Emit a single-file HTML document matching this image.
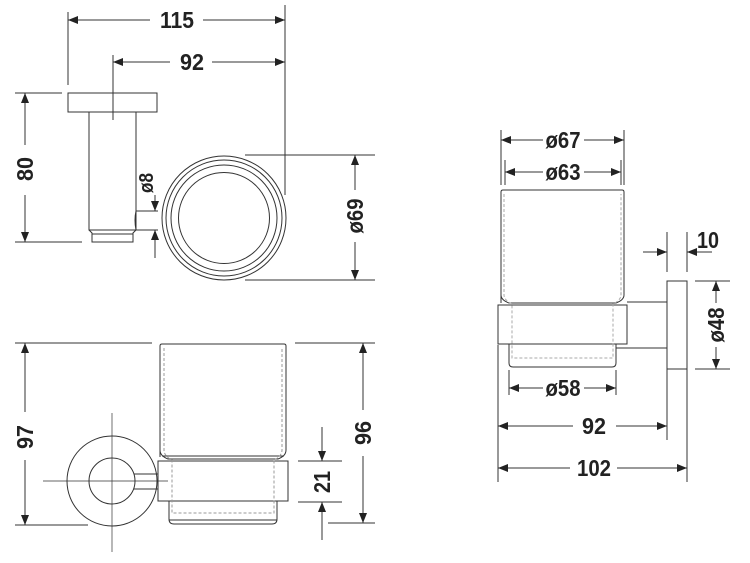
<!DOCTYPE html>
<html><head><meta charset="utf-8"><style>
html,body{margin:0;padding:0;background:#fff}
svg{display:block}
text{font-family:"Liberation Sans Narrow","Liberation Sans",sans-serif;font-weight:bold;font-size:23px;fill:#222}
</style></head><body>
<svg width="750" height="563" viewBox="0 0 750 563" xmlns="http://www.w3.org/2000/svg">
<defs>
<marker id="a" viewBox="0 0 10 8" refX="10" refY="4" markerWidth="10" markerHeight="8" markerUnits="userSpaceOnUse" orient="auto-start-reverse"><path d="M0,0 L10,4 L0,8 z" fill="#222"/></marker>
</defs>
<g stroke="#333" stroke-width="1" fill="none">
<line x1="68" y1="12" x2="68" y2="85"/>
<line x1="285" y1="5" x2="285" y2="195"/>
<line x1="113" y1="55" x2="113" y2="120"/>
<line x1="68" y1="20" x2="150" y2="20" marker-start="url(#a)"/>
<line x1="203" y1="20" x2="285" y2="20" marker-end="url(#a)"/>
<line x1="113" y1="62" x2="170" y2="62" marker-start="url(#a)"/>
<line x1="212" y1="62" x2="285" y2="62" marker-end="url(#a)"/>
<rect x="68" y="93" width="89" height="19"/>
<rect x="89" y="112" width="47" height="118"/>
<path d="M89,230 L92,233 L92,242 L133,242 L133,233 L136,230"/>
<line x1="92" y1="234" x2="133" y2="234"/>
<line x1="15" y1="93" x2="62" y2="93"/>
<line x1="15" y1="242" x2="82" y2="242"/>
<line x1="25" y1="93" x2="25" y2="145" marker-start="url(#a)"/>
<line x1="25" y1="195" x2="25" y2="242" marker-end="url(#a)"/>
<path d="M136,211 L158,211 M136,230 L158,230 M136,211 Q134,220 136,230"/>
<line x1="155" y1="195" x2="155" y2="211" marker-end="url(#a)"/>
<line x1="155" y1="258" x2="155" y2="230" marker-end="url(#a)"/>
<circle cx="224" cy="218" r="62"/>
<circle cx="224" cy="218" r="58"/>
<circle cx="224" cy="218" r="53"/>
<circle cx="224" cy="218" r="45.5"/>
<line x1="245" y1="155" x2="375" y2="155"/>
<line x1="245" y1="280" x2="375" y2="280"/>
<line x1="355" y1="155" x2="355" y2="190" marker-start="url(#a)"/>
<line x1="355" y1="242" x2="355" y2="280" marker-end="url(#a)"/>

<line x1="15" y1="343" x2="152" y2="343"/>
<line x1="15" y1="525" x2="88" y2="525"/>
<line x1="25" y1="343" x2="25" y2="412" marker-start="url(#a)"/>
<line x1="25" y1="460" x2="25" y2="525" marker-end="url(#a)"/>
<line x1="112" y1="413" x2="112" y2="552" stroke-width="0.7"/>
<line x1="43" y1="481" x2="168" y2="481" stroke-width="0.7"/>
<circle cx="112" cy="481" r="45"/>
<circle cx="112" cy="481" r="23"/>
<line x1="134" y1="474" x2="158" y2="474"/>
<line x1="134" y1="489" x2="158" y2="489"/>
<path d="M160,457 L160,346 Q160,344 162,344 L284,344 Q286,344 286,346 L286,450 Q286,456 278,459 L168,459 Q160,456 160,450"/>
<line x1="162" y1="456" x2="284" y2="456"/>
<rect x="158" y="461" width="130" height="40"/>
<path d="M169,501 L169,519 Q169,524 174,524 L272,524 Q277,524 277,519 L277,501"/>
<line x1="169" y1="520" x2="277" y2="520"/>
<g stroke="#999" stroke-dasharray="3,2">
<path d="M164,348 L164,450 Q164,456 172,460 L172,513 L274,513 L274,460 Q282,456 282,450 L282,348"/>
</g>
<line x1="295" y1="343" x2="375" y2="343"/>
<line x1="328" y1="523" x2="375" y2="523"/>
<line x1="363" y1="343" x2="363" y2="410" marker-start="url(#a)"/>
<line x1="363" y1="456" x2="363" y2="523" marker-end="url(#a)"/>
<line x1="298" y1="461" x2="342" y2="461"/>
<line x1="298" y1="502" x2="342" y2="502"/>
<line x1="322" y1="427" x2="322" y2="461" marker-end="url(#a)"/>
<line x1="322" y1="540" x2="322" y2="502" marker-end="url(#a)"/>

<line x1="501" y1="130" x2="501" y2="185"/>
<line x1="624" y1="130" x2="624" y2="185"/>
<line x1="505" y1="160" x2="505" y2="185"/>
<line x1="621" y1="160" x2="621" y2="185"/>
<line x1="501" y1="140" x2="543" y2="140" marker-start="url(#a)"/>
<line x1="584" y1="140" x2="624" y2="140" marker-end="url(#a)"/>
<line x1="505" y1="172" x2="543" y2="172" marker-start="url(#a)"/>
<line x1="584" y1="172" x2="621" y2="172" marker-end="url(#a)"/>
<path d="M501,303 L501,192 Q501,190 503,190 L622,190 Q624,190 624,192 L624,295 Q624,300 616,303 L509,303 Q501,300 501,295"/>
<rect x="498" y="305" width="129" height="39"/>
<path d="M509,344 L509,363 Q509,367 513,367 L612,367 Q616,367 616,363 L616,344"/>
<g stroke="#aaa" stroke-dasharray="3,2">
<path d="M504,194 L504,295 Q504,300 512,304 L512,358 L613,358 L613,304 Q621,300 621,295 L621,194"/>
</g>
<line x1="627" y1="302" x2="667" y2="302"/>
<line x1="616" y1="348" x2="667" y2="348"/>
<rect x="667" y="281" width="20" height="88"/>
<line x1="667" y1="232" x2="667" y2="272"/>
<line x1="687" y1="232" x2="687" y2="272"/>
<line x1="643" y1="252" x2="667" y2="252" marker-end="url(#a)"/>
<line x1="712" y1="252" x2="687" y2="252" marker-end="url(#a)"/>
<line x1="695" y1="281" x2="730" y2="281"/>
<line x1="695" y1="369" x2="730" y2="369"/>
<line x1="716" y1="281" x2="716" y2="303" marker-start="url(#a)"/>
<line x1="716" y1="347" x2="716" y2="369" marker-end="url(#a)"/>
<line x1="509" y1="370" x2="509" y2="395"/>
<line x1="616" y1="370" x2="616" y2="395"/>
<line x1="509" y1="388" x2="543" y2="388" marker-start="url(#a)"/>
<line x1="584" y1="388" x2="616" y2="388" marker-end="url(#a)"/>
<line x1="498" y1="345" x2="498" y2="482"/>
<line x1="667" y1="369" x2="667" y2="440"/>
<line x1="687" y1="369" x2="687" y2="482"/>
<line x1="498" y1="426" x2="573" y2="426" marker-start="url(#a)"/>
<line x1="616" y1="426" x2="667" y2="426" marker-end="url(#a)"/>
<line x1="498" y1="468" x2="570" y2="468" marker-start="url(#a)"/>
<line x1="617" y1="468" x2="687" y2="468" marker-end="url(#a)"/>
</g>

<text x="177" y="28" text-anchor="middle" textLength="34" lengthAdjust="spacingAndGlyphs">115</text>
<text x="192" y="70" text-anchor="middle" textLength="24" lengthAdjust="spacingAndGlyphs">92</text>
<text transform="translate(33,169) rotate(-90)" text-anchor="middle" textLength="24" lengthAdjust="spacingAndGlyphs">80</text>
<text transform="translate(153,183) rotate(-90)" text-anchor="middle" style="font-size:20px" textLength="20" lengthAdjust="spacingAndGlyphs">ø8</text>
<text transform="translate(363,216) rotate(-90)" text-anchor="middle" textLength="35" lengthAdjust="spacingAndGlyphs">ø69</text>
<text transform="translate(33,437) rotate(-90)" text-anchor="middle" textLength="24" lengthAdjust="spacingAndGlyphs">97</text>
<text transform="translate(371,433) rotate(-90)" text-anchor="middle" textLength="24" lengthAdjust="spacingAndGlyphs">96</text>
<text transform="translate(330,482) rotate(-90)" text-anchor="middle" textLength="22" lengthAdjust="spacingAndGlyphs">21</text>
<text x="563" y="148" text-anchor="middle" textLength="35" lengthAdjust="spacingAndGlyphs">ø67</text>
<text x="563" y="180" text-anchor="middle" textLength="35" lengthAdjust="spacingAndGlyphs">ø63</text>
<text x="708" y="248" text-anchor="middle" textLength="22" lengthAdjust="spacingAndGlyphs">10</text>
<text transform="translate(724,325) rotate(-90)" text-anchor="middle" textLength="35" lengthAdjust="spacingAndGlyphs">ø48</text>
<text x="563" y="396" text-anchor="middle" textLength="35" lengthAdjust="spacingAndGlyphs">ø58</text>
<text x="594" y="434" text-anchor="middle" textLength="24" lengthAdjust="spacingAndGlyphs">92</text>
<text x="594" y="476" text-anchor="middle" textLength="34" lengthAdjust="spacingAndGlyphs">102</text>
</svg>
</body></html>
